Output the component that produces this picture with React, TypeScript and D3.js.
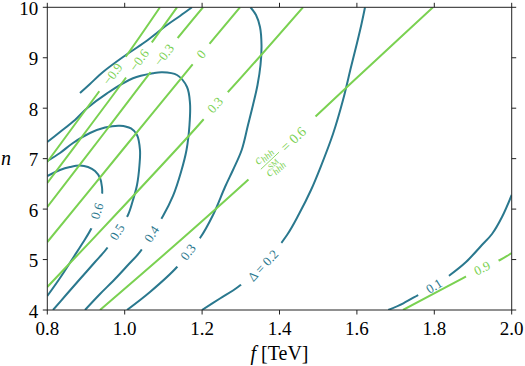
import React from "react";
import * as d3 from "d3";

const width = 525;
const height = 366;
const margin = { top: 7.3, right: 13.3, bottom: 56, left: 47.3 };

const teal = "#2a788e";
const green = "#7ad151";
const font = "'Liberation Serif', serif";

const xTicks = [0.8, 1.0, 1.2, 1.4, 1.6, 1.8, 2.0];
const yTicks = [4, 5, 6, 7, 8, 9, 10];

// Delta contours, points as [f, n]
const delta01 = [[1.681, 4.0], [1.72, 4.133], [1.758, 4.297], [1.799, 4.476], [1.8406, 4.694], [1.8819, 4.951], [1.9207, 5.269], [1.9491, 5.506], [1.9749, 5.843], [2.0, 6.28]];
const delta02 = [[1.1997, 4.0], [1.2462, 4.228], [1.2935, 4.462], [1.3574, 4.882], [1.4194, 5.487], [1.4504, 5.903], [1.4814, 6.379], [1.5072, 6.854], [1.5382, 7.489], [1.5641, 8.163], [1.5848, 8.817], [1.6003, 9.292], [1.6119, 9.669], [1.621, 10.0]];
const delta03a = [[0.8845, 8.301], [0.9103, 8.48], [0.9439, 8.718], [0.9956, 9.015], [1.0525, 9.312], [1.1093, 9.649], [1.1429, 9.828], [1.1739, 10.0]];
const delta03b = [[1.3251, 10.0], [1.3393, 9.847], [1.3496, 9.61], [1.3535, 9.253], [1.3509, 8.856], [1.3432, 8.46], [1.3315, 8.063], [1.3186, 7.667], [1.3023, 7.171], [1.2798, 6.775], [1.2592, 6.438], [1.2282, 5.883], [1.1946, 5.427], [1.1636, 5.15], [1.1351, 4.852], [1.0654, 4.357], [1.0059, 4.0]];
const delta04 = [[0.8, 7.33], [0.8328, 7.528], [0.8716, 7.766], [0.9026, 7.998], [0.9543, 8.295], [1.0214, 8.593], [1.0731, 8.692], [1.0964, 8.712], [1.1351, 8.658], [1.161, 8.42], [1.1687, 8.103], [1.1674, 7.667], [1.1597, 7.171], [1.1455, 6.735], [1.1248, 6.26], [1.099, 5.863], [1.0693, 5.506], [1.0395, 5.15], [1.0085, 4.892], [0.9749, 4.614], [0.9362, 4.317], [0.8974, 4.0]];
const delta05 = [[0.8, 6.953], [0.8328, 7.112], [0.8664, 7.31], [0.9103, 7.508], [0.9491, 7.617], [0.9879, 7.653], [1.0163, 7.598], [1.0318, 7.469], [1.0395, 7.171], [1.0382, 6.874], [1.0318, 6.478], [1.0214, 6.18], [1.0085, 5.883], [0.9801, 5.546], [0.9568, 5.249], [0.9233, 4.951], [0.8845, 4.614], [0.8483, 4.297], [0.8147, 4.0]];
const delta06 = [[0.8, 6.656], [0.8328, 6.775], [0.8587, 6.834], [0.8845, 6.864], [0.9052, 6.834], [0.9233, 6.755], [0.9362, 6.616], [0.9413, 6.438], [0.9413, 6.28], [0.9284, 5.962], [0.9155, 5.645], [0.8897, 5.308], [0.8664, 5.031], [0.8328, 4.634], [0.8, 4.277]];

const deltaLines = [[delta01], [delta02], [delta03a, delta03b], [delta04], [delta05], [delta06]];
const deltaLabels = ["0.1", "\u0394 = 0.2", "0.3", "0.4", "0.5", "0.6"];
const deltaLabelAt = [[1.799, 4.476], [1.3574, 4.882], [1.1636, 5.15], [1.0693, 5.506], [0.9801, 5.546], [0.9284, 5.962]];

// trilinear coupling ratio contours, points as [f, n]
const ratioM09 = [[0.8, 6.934], [0.931, 8.301], [0.9685, 8.678], [1.0059, 9.055], [1.0912, 10.0]];
const ratioM06 = [[0.8, 6.517], [0.9181, 7.726], [1.037, 8.955], [1.1351, 10.0]];
const ratioM03 = [[0.8, 6.042], [0.949, 7.528], [1.1016, 9.055], [1.2023, 10.0]];
const ratio00 = [[0.8, 5.348], [0.9879, 7.112], [1.1972, 9.074], [1.2979, 10.0]];
const ratio03 = [[0.8, 4.456], [0.9879, 5.982], [1.2023, 7.766], [1.2333, 8.063], [1.2669, 8.321], [1.4607, 10.0]];
const ratio06 = [[0.9362, 4.0], [1.13, 5.288], [1.3212, 6.597], [1.4065, 7.211], [1.4917, 7.826], [1.6468, 8.936], [1.7966, 10.0]];
const ratio09 = [[1.7191, 4.0], [1.8742, 4.634], [1.9233, 4.832], [1.9698, 4.991], [2.0, 5.13]];

const ratioLines = [[ratioM09], [ratioM06], [ratioM03], [ratio00], [ratio03], [ratio06], [ratio09]];
const ratioLabels = ["\u22120.9", "\u22120.6", "\u22120.3", "0", "0.3", "frac", "0.9"];
const ratioLabelAt = [[0.9685, 8.678], [1.037, 8.955], [1.1016, 9.055], [1.1972, 9.074], [1.2333, 8.063], [1.4065, 7.211], [1.9233, 4.832]];

const x = d3.scaleLinear().domain([0.8, 2.0]).range([margin.left, width - margin.right]);
const y = d3.scaleLinear().domain([4, 10]).range([height - margin.bottom, margin.top]);
const line = d3
  .line<number[]>()
  .x(d => x(d[0]))
  .y(d => y(d[1]))
  .curve(d3.curveCatmullRom.alpha(0.5));

const labelSize = 13;
const charW: Record<string, number> = { ".": 0.25, " ": 0.25, "=": 0.56, "\u2212": 0.56, "\u0394": 0.61 };
const textWidth = (s: string) => s.split("").reduce((a, c) => a + (charW[c] ?? 0.5), 0) * labelSize;

// snap label onto its line and take the local direction
function placeLabel(segments: number[][][], at: number[]) {
  const px = x(at[0]);
  const py = y(at[1]);
  let best = Infinity;
  let res = { x: px, y: py, angle: 0 };
  segments.forEach(seg => {
    for (let i = 0; i < seg.length - 1; i++) {
      const ax = x(seg[i][0]), ay = y(seg[i][1]);
      const bx = x(seg[i + 1][0]), by = y(seg[i + 1][1]);
      const dx = bx - ax, dy = by - ay;
      const t = Math.max(0, Math.min(1, ((px - ax) * dx + (py - ay) * dy) / (dx * dx + dy * dy)));
      const cx = ax + t * dx, cy = ay + t * dy;
      const d = Math.hypot(cx - px, cy - py);
      if (d < best - 0.01) {
        best = d;
        // direction from neighbours around the label
        const p0 = seg[Math.max(0, i - (t < 0.5 ? 1 : 0))];
        const p1 = seg[Math.min(seg.length - 1, i + 1 + (t >= 0.5 ? 1 : 0))];
        let a = (Math.atan2(y(p1[1]) - y(p0[1]), x(p1[0]) - x(p0[0])) * 180) / Math.PI;
        if (a > 90) a -= 180;
        if (a < -90) a += 180;
        res = { x: cx, y: cy, angle: a };
      }
    }
  });
  return res;
}

const FracLabel = ({ color }: { color: string }) => (
  <g fill={color} style={{ fontFamily: font }}>
    <text x={-29} y={-3.5} fontSize={13} fontStyle="italic">c</text>
    <text x={-23} y={-1} fontSize={9.5} fontStyle="italic">hhh</text>
    <line x1={-30} x2={-5} y1={1} y2={1} stroke={color} strokeWidth={0.8} />
    <text x={-29} y={13} fontSize={13} fontStyle="italic">c</text>
    <text x={-23} y={8.5} fontSize={8}>SM</text>
    <text x={-23} y={16} fontSize={9.5} fontStyle="italic">hhh</text>
    <text x={0} y={6} fontSize={14}>= 0.6</text>
  </g>
);

function ContourSet({ lines, labels, at, color, id }: any) {
  return (
    <g>
      {lines.map((segs: number[][][], i: number) => {
        const p = placeLabel(segs, at[i]);
        const isFrac = labels[i] === "frac";
        const gap = (isFrac ? 72 : textWidth(labels[i])) + 20;
        return (
          <g key={i}>
            <mask id={`${id}-${i}`} maskUnits="userSpaceOnUse" x={0} y={0} width={width} height={height}>
              <rect x={0} y={0} width={width} height={height} fill="white" />
              <rect
                x={-gap / 2}
                y={-9}
                width={gap}
                height={18}
                fill="black"
                transform={`translate(${p.x},${p.y}) rotate(${p.angle})`}
              />
            </mask>
            <g mask={`url(#${id}-${i})`} clipPath="url(#plot-clip)">
              {segs.map((s, k) => (
                <path key={k} d={line(s) as string} fill="none" stroke={color} strokeWidth={2} />
              ))}
            </g>
            <g transform={`translate(${p.x},${p.y}) rotate(${p.angle})`}>
              {isFrac ? (
                <FracLabel color={color} />
              ) : (
                <text
                  textAnchor="middle"
                  dominantBaseline="central"
                  fontSize={labelSize}
                  style={{ fontFamily: font }}
                  fill={color}
                >
                  {labels[i]}
                </text>
              )}
            </g>
          </g>
        );
      })}
    </g>
  );
}

export default function App() {
  const x0 = margin.left;
  const x1 = width - margin.right;
  const y0 = margin.top;
  const y1 = height - margin.bottom;
  const tickLen = 4.5;
  return (
    <svg
      width={width}
      height={height}
      style={{ position: "absolute", left: 0, top: 0, background: "white", fontFamily: font }}
    >
      <defs>
        <clipPath id="plot-clip">
          <rect x={x0} y={y0} width={x1 - x0} height={y1 - y0} />
        </clipPath>
      </defs>
      <rect x={0} y={0} width={width} height={height} fill="white" />

      <ContourSet lines={deltaLines} labels={deltaLabels} at={deltaLabelAt} color={teal} id="d" />
      <ContourSet lines={ratioLines} labels={ratioLabels} at={ratioLabelAt} color={green} id="r" />

      <rect x={x0} y={y0} width={x1 - x0} height={y1 - y0} fill="none" stroke="#222" strokeWidth={1} />

      {xTicks.map(t => (
        <g key={"x" + t}>
          <line x1={x(t)} x2={x(t)} y1={y1} y2={y1 + tickLen} stroke="#222" />
          <line x1={x(t)} x2={x(t)} y1={y0} y2={y0 - tickLen} stroke="#222" />
          <text x={x(t)} y={y1 + 25} textAnchor="middle" fontSize={19} style={{ fontFamily: font }}>
            {d3.format(".1f")(t)}
          </text>
        </g>
      ))}
      {yTicks.map(t => (
        <g key={"y" + t}>
          <line x1={x0 - tickLen} x2={x0} y1={y(t)} y2={y(t)} stroke="#222" />
          <line x1={x1} x2={x1 + tickLen} y1={y(t)} y2={y(t)} stroke="#222" />
          <text x={x0 - 9} y={y(t) + 7.5} textAnchor="end" fontSize={19} style={{ fontFamily: font }}>
            {t}
          </text>
        </g>
      ))}

      <text x={(x0 + x1) / 2} y={360} textAnchor="middle" fontSize={20} style={{ fontFamily: font }}>
        <tspan fontStyle="italic">f</tspan> [TeV]
      </text>
      <text x={6} y={165} textAnchor="middle" fontSize={20} fontStyle="italic" style={{ fontFamily: font }}>
        n
      </text>
    </svg>
  );
}
